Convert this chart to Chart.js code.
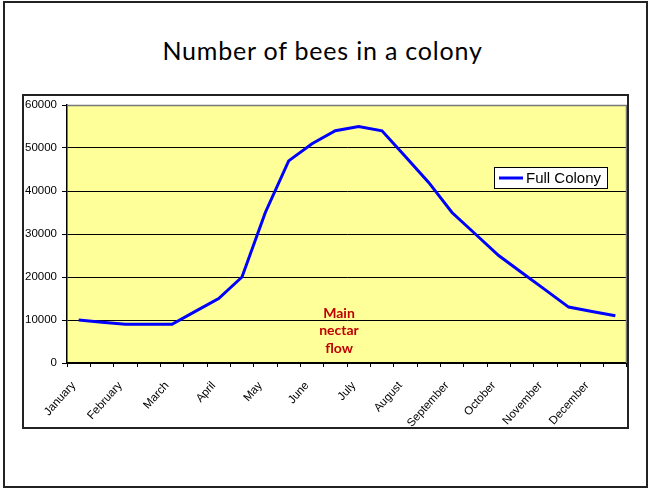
<!DOCTYPE html>
<html>
<head>
<meta charset="utf-8">
<script src="https://cdn.jsdelivr.net/npm/chart.js"></script>
<style>
  html, body { margin: 0; padding: 0; background: #fff; }
  body { width: 649px; height: 488px; position: relative; overflow: hidden; }
  #slide { position: absolute; left: 3px; top: 1px; width: 645px; height: 487px; box-sizing: border-box; border: 2px solid #222; }
  #title { position: absolute; left: 0; width: 645px; top: 38px; line-height: 25px; text-align: center; font-family: Lato, "Open Sans", sans-serif; font-size: 25px; letter-spacing: 0.8px; color: #000; }
  #frame { position: absolute; left: 22px; top: 94px; width: 607px; height: 335px; box-sizing: border-box; border: 2px solid #222; background: #fff; }
  #frame canvas { display: block; }
</style>
</head>
<body>
<div id="slide"></div>
<div id="title">Number of bees in a colony</div>
<div id="frame"><canvas id="beeChart" width="603" height="331"></canvas></div>
<script>
const months = ['January', 'February', 'March', 'April', 'May', 'June',
  'July', 'August', 'September', 'October', 'November', 'December'];
// two readings per month
const fullColony = [10000, 9500, 9000, 9000, 9000, 12000, 15000, 20000,
  35000, 47000, 51000, 54000, 55000, 54000, 48000, 42000,
  35000, 30000, 25000, 21000, 17000, 13000, 12000, 11000];
const yTicks = [0, 10000, 20000, 30000, 40000, 50000, 60000];
const note = ['Main', 'nectar', 'flow'];

const labels = months.flatMap(m => [m, '']);

const plotBg = {
  id: 'plotBg',
  beforeDraw(chart) {
    const { ctx, chartArea: a } = chart;
    ctx.save();
    ctx.fillStyle = '#ffff99';
    ctx.fillRect(a.left, a.top, a.right - a.left, a.bottom - a.top);
    ctx.restore();
  },
  afterDatasetsDraw(chart) {
    const { ctx, chartArea: a } = chart;
    ctx.save();
    ctx.strokeStyle = '#777';
    ctx.lineWidth = 1.5;
    ctx.beginPath();
    ctx.moveTo(a.left, a.top + 0.5);
    ctx.lineTo(a.right - 0.5, a.top + 0.5);
    ctx.lineTo(a.right - 0.5, a.bottom);
    ctx.stroke();

    // annotation
    ctx.fillStyle = '#c00000';
    ctx.font = 'bold 14px Lato, sans-serif';
    ctx.textAlign = 'center';
    ctx.textBaseline = 'middle';
    note.forEach((t, i) => ctx.fillText(t, 315, 217 + i * 17.5));

    // legend
    const ds = chart.data.datasets[0];
    ctx.fillStyle = '#fff';
    ctx.fillRect(470, 71, 113, 21);
    ctx.strokeStyle = '#000';
    ctx.lineWidth = 1;
    ctx.strokeRect(470.5, 71.5, 113, 21);
    ctx.strokeStyle = ds.borderColor;
    ctx.lineWidth = 3;
    ctx.beginPath();
    ctx.moveTo(475, 82);
    ctx.lineTo(499, 82);
    ctx.stroke();
    ctx.fillStyle = '#000';
    ctx.font = '15px "Liberation Sans", Arial, sans-serif';
    ctx.textAlign = 'left';
    ctx.fillText(ds.label, 502, 82.5);
    ctx.restore();
  }
};

new Chart(document.getElementById('beeChart'), {
  type: 'line',
  data: {
    labels: labels,
    datasets: [{
      label: 'Full Colony',
      data: fullColony,
      borderColor: '#0000ff',
      borderWidth: 3,
      pointRadius: 0,
      tension: 0,
      fill: false
    }]
  },
  options: {
    responsive: false,
    animation: false,
    layout: { padding: { top: 9, left: 0, right: 0, bottom: 0 } },
    plugins: {
      legend: { display: false },
      title: { display: false },
      tooltip: { enabled: false }
    },
    scales: {
      x: {
        offset: true,
        grid: { offset: true, drawOnChartArea: false, drawTicks: true, tickLength: 4, color: '#000' },
        border: { display: true, color: '#000', width: 1.5 },
        ticks: {
          autoSkip: false,
          maxRotation: 48,
          minRotation: 48,
          padding: 12,
          labelOffset: -5,
          color: '#000',
          font: { family: '"Liberation Sans", Arial, sans-serif', size: 11.5 }
        },
        afterFit(s) { s.height = 64; s.paddingLeft = 0; s.paddingRight = 0; }
      },
      y: {
        min: 0,
        max: 60000,
        afterBuildTicks(s) { s.ticks = yTicks.map(v => ({ value: v })); },
        grid: { color: '#000', lineWidth: 1, drawTicks: true, tickLength: 5 },
        border: { display: true, color: '#000', width: 1.5 },
        ticks: {
          padding: 5,
          color: '#000',
          callback: v => String(v),
          font: { family: '"Liberation Sans", Arial, sans-serif', size: 11.5 }
        },
        afterFit(s) { s.width = 43; s.paddingTop = 0; s.paddingBottom = 0; }
      }
    }
  },
  plugins: [plotBg]
});
</script>
</body>
</html>
